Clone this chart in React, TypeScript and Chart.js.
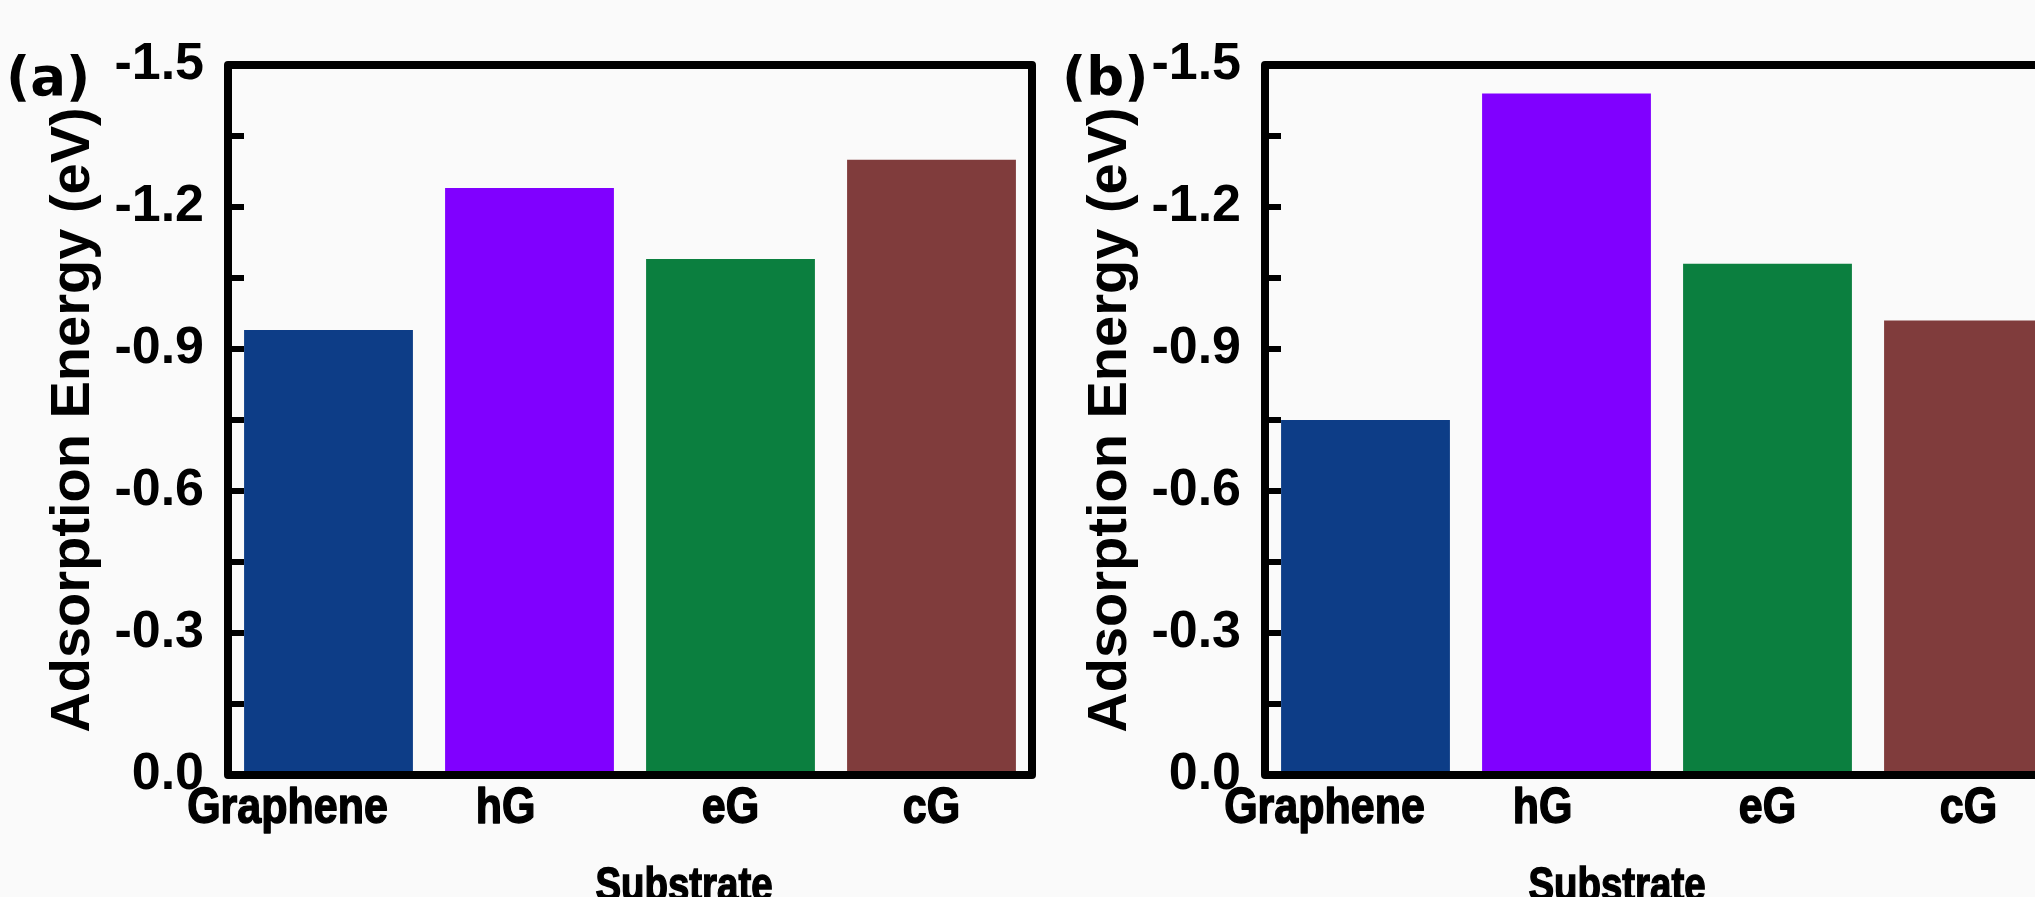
import React, { useEffect, useRef } from 'react';
import { Chart, registerables } from 'chart.js';

Chart.register(...registerables);

const categories = ['Graphene', 'hG', 'eG', 'cG'];
const energiesA = [-0.94, -1.24, -1.09, -1.30];
const energiesB = [-0.75, -1.44, -1.08, -0.96];
const barColors = ['#0d3d87', '#8000ff', '#0b7f3f', '#803c3c'];
const yMin = -1.5;
const yMax = 0;
const yStep = 0.3;
const xTitle = 'Substrate';
const yTitle = 'Adsorption Energy (eV)';

// style: horizontal nudge of each category label (px) and condensed text factors
const labelNudge = [-41, -24, 0, 0];
const LABEL_CONDENSE = 0.86;
const TITLE_CONDENSE = 0.8;

const FONT = "'Liberation Sans', Arial, Helvetica, sans-serif";
const HEAVY = "'DejaVu Sans', 'Liberation Sans', Arial, sans-serif";

const framePlugin = {
  id: 'frame',
  afterDatasetsDraw(chart: any) {
    const { ctx, chartArea } = chart;
    const y = chart.scales.y;
    ctx.save();
    ctx.strokeStyle = '#000';
    const ticks = y.ticks.map((t: any) => t.value);
    const vals: number[] = [];
    for (let i = 0; i < ticks.length; i++) {
      vals.push(ticks[i]);
      if (i < ticks.length - 1) vals.push((ticks[i] + ticks[i + 1]) / 2);
    }
    ctx.lineWidth = 6;
    vals.forEach((v) => {
      const py = y.getPixelForValue(v);
      ctx.beginPath();
      ctx.moveTo(chartArea.left, py);
      ctx.lineTo(chartArea.left + 16, py);
      ctx.stroke();
    });
    ctx.lineWidth = 8;
    ctx.lineJoin = 'round';
    ctx.strokeRect(chartArea.left, chartArea.top, chartArea.right - chartArea.left, chartArea.bottom - chartArea.top);
    ctx.restore();
  },
  afterDraw(chart: any) {
    const { ctx, chartArea } = chart;
    const xs = chart.scales.x;
    ctx.save();
    ctx.fillStyle = '#000';
    ctx.strokeStyle = '#000';
    ctx.lineWidth = 1.5;
    ctx.lineJoin = 'round';
    ctx.font = `bold 50px ${FONT}`;
    ctx.textAlign = 'center';
    ctx.textBaseline = 'alphabetic';
    xs.ticks.forEach((t: any, i: number) => {
      const px = xs.getPixelForTick(i) + (labelNudge[i] || 0);
      const label = String(xs.getLabelForValue(t.value));
      ctx.save();
      ctx.translate(px, chartArea.bottom + 48);
      ctx.scale(LABEL_CONDENSE, 1);
      ctx.fillText(label, 0, 0);
      ctx.strokeText(label, 0, 0);
      ctx.restore();
    });
    ctx.restore();
  },
};

function Panel({
  letter,
  values,
  left,
  letterLeft,
  xTitleCenter,
}: {
  letter: string;
  values: number[];
  left: number;
  letterLeft: number;
  xTitleCenter: number;
}) {
  const ref = useRef<HTMLCanvasElement>(null);
  useEffect(() => {
    const chart = new Chart(ref.current!, {
      type: 'bar',
      data: {
        labels: categories,
        datasets: [
          {
            data: values,
            backgroundColor: barColors,
            borderWidth: 0,
            barPercentage: 0.84,
            categoryPercentage: 1,
          },
        ],
      },
      options: {
        responsive: false,
        animation: false,
        devicePixelRatio: 1,
        layout: { padding: { left: 0, top: 65, right: 28, bottom: 0 } },
        plugins: { legend: { display: false }, tooltip: { enabled: false } },
        scales: {
          x: {
            grid: { display: false },
            border: { display: false },
            ticks: { display: false, autoSkip: false },
            afterFit: (s: any) => {
              s.height = 185;
            },
          },
          y: {
            min: yMin,
            max: yMax,
            reverse: true,
            grid: { display: false },
            border: { display: false },
            ticks: {
              stepSize: yStep,
              color: '#000',
              font: { family: FONT, size: 52, weight: 'bold' },
              padding: 16,
              callback: (v: any) => Number(v).toFixed(1),
            },
            title: {
              display: true,
              text: yTitle,
              color: '#000',
              font: { family: FONT, size: 56, weight: 'bold' },
              padding: { top: 40, bottom: 0 },
            },
            afterFit: (s: any) => {
              s.width = 228;
            },
          },
        },
      },
      plugins: [framePlugin],
    });
    return () => chart.destroy();
  }, []);
  return (
    <div style={{ position: 'absolute', left, top: 0, width: 1060, height: 960 }}>
      <canvas ref={ref} width={1060} height={960} style={{ display: 'block' }} />
      <div
        style={{
          position: 'absolute',
          left: letterLeft,
          top: 50,
          font: `bold 53px ${HEAVY}`,
          color: '#000',
          lineHeight: '53px',
          whiteSpace: 'nowrap',
        }}
      >
        {letter}
      </div>
      <div
        style={{
          position: 'absolute',
          left: xTitleCenter - 200,
          width: 400,
          top: 861,
          textAlign: 'center',
          font: `bold 48px ${FONT}`,
          color: '#000',
          lineHeight: '48px',
          whiteSpace: 'nowrap',
          transform: `scaleX(${TITLE_CONDENSE})`,
          transformOrigin: 'center',
          WebkitTextStroke: '1.5px #000',
        }}
      >
        {xTitle}
      </div>
    </div>
  );
}

export default function App() {
  return (
    <div
      style={{
        position: 'fixed',
        left: 0,
        top: 0,
        width: '100vw',
        height: '100vh',
        overflow: 'hidden',
        background: '#fafafa',
      }}
    >
      <Panel letter="(a)" values={energiesA} left={0} letterLeft={6} xTitleCenter={684} />
      <Panel letter="(b)" values={energiesB} left={1037} letterLeft={25} xTitleCenter={580} />
    </div>
  );
}
